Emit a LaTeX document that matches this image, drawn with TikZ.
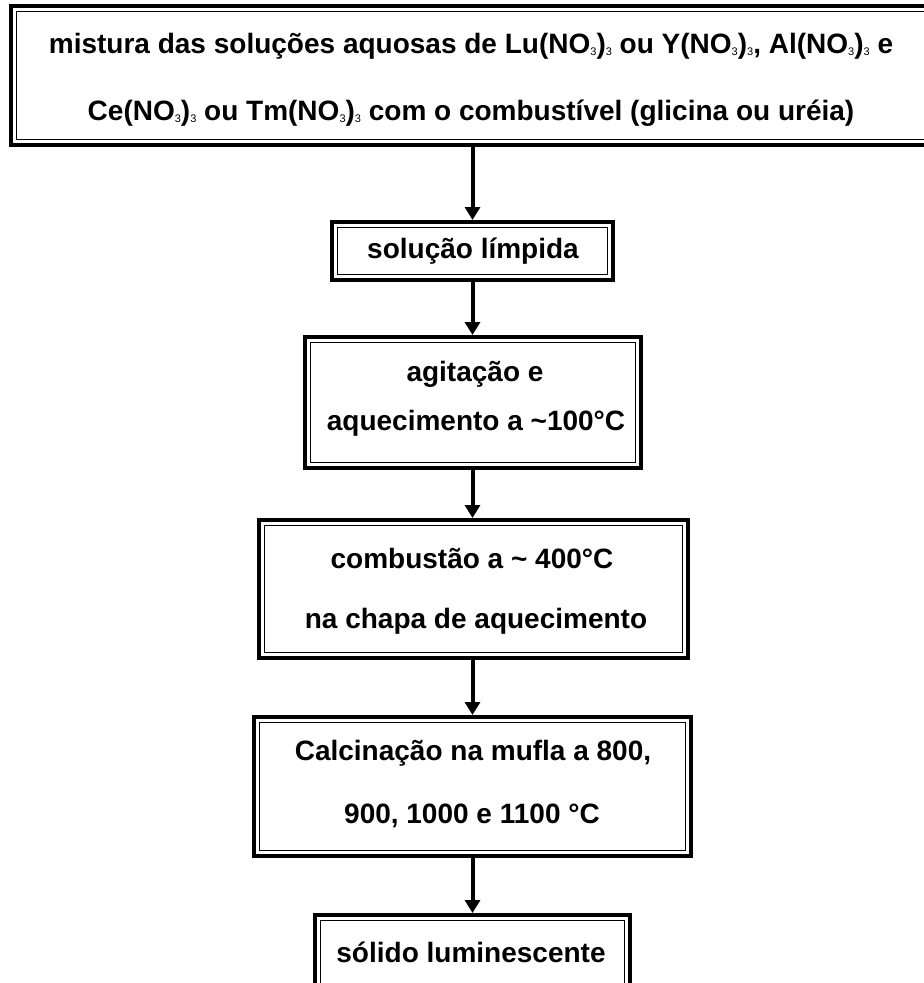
\documentclass[tikz,border=0pt]{standalone}
\usepackage{fontspec}
\setmainfont{Liberation Sans}
\usetikzlibrary{arrows.meta}
\tikzset{
  boxnode/.style={draw=black, line width=4pt, rectangle, inner sep=0pt, fill=white},
  innerline/.style={draw=black, line width=1.5pt},
  label/.style={anchor=base, inner sep=0pt, font=\bfseries\fontsize{28}{30}\selectfont},
  flow/.style={draw=black, line width=4pt, -{Triangle[width=15pt,length=13pt]}}
}
\newcommand{\ins}[1]{%
  \draw[innerline] ([shift={(7.5,7.5)}]#1.north west) rectangle ([shift={(-7.5,-7.5)}]#1.south east);}
\newcommand{\sub}{\raisebox{-2.5pt}{\fontsize{11}{11}\selectfont\mdseries 3}}
\begin{document}
\begin{tikzpicture}[x=1pt,y=-1pt]
\useasboundingbox (0,0) rectangle (924,983);
\fill[white] (0,0) rectangle (924,983);
% boxes
\node[boxnode, minimum width=924pt, minimum height=139pt] (top) at (473,75.5) {};
\node[boxnode, minimum width=281pt, minimum height=58pt] (sol) at (472.5,251) {};
\node[boxnode, minimum width=336pt, minimum height=131pt] (agi) at (473,402.5) {};
\node[boxnode, minimum width=429pt, minimum height=138pt] (comb) at (473.5,589) {};
\node[boxnode, minimum width=437pt, minimum height=139pt] (calc) at (472.5,786.5) {};
\node[boxnode, minimum width=315pt, minimum height=76pt] (soli) at (472.5,953) {};
\ins{top}\ins{sol}\ins{agi}\ins{comb}\ins{calc}\ins{soli}
% texts
\node[label] (t1) at (471,53) {mistura das soluções aquosas de Lu(NO\sub)\sub{} ou Y(NO\sub)\sub, Al(NO\sub)\sub{} e};
\node[label] (t2) at (471,120) {Ce(NO\sub)\sub{} ou Tm(NO\sub)\sub{} com o combustível (glicina ou uréia)};
\node[label] (s1) at (473,258) {solução límpida};
\node[label] (a1) at (475,381) {agitação e};
\node[label] (a2) at (476,430) {aquecimento a \textasciitilde100°C};
\node[label] (c1) at (472,568) {combustão a \textasciitilde{} 400°C};
\node[label] (c2) at (476,628) {na chapa de aquecimento};
\node[label] (k1) at (473,760) {Calcinação na mufla a 800,};
\node[label] (k2) at (472,823) {900, 1000 e 1100 °C};
\node[label] (l1) at (471,962) {sólido luminescente};
% arrows
\draw[flow] (top.south -| sol.north) -- (sol.north);
\draw[flow] (sol.south) -- (agi.north -| sol.south);
\draw[flow] (agi.south -| sol.south) -- (comb.north -| sol.south);
\draw[flow] (comb.south -| sol.south) -- (calc.north -| sol.south);
\draw[flow] (calc.south -| sol.south) -- (soli.north -| sol.south);
\end{tikzpicture}
\end{document}
